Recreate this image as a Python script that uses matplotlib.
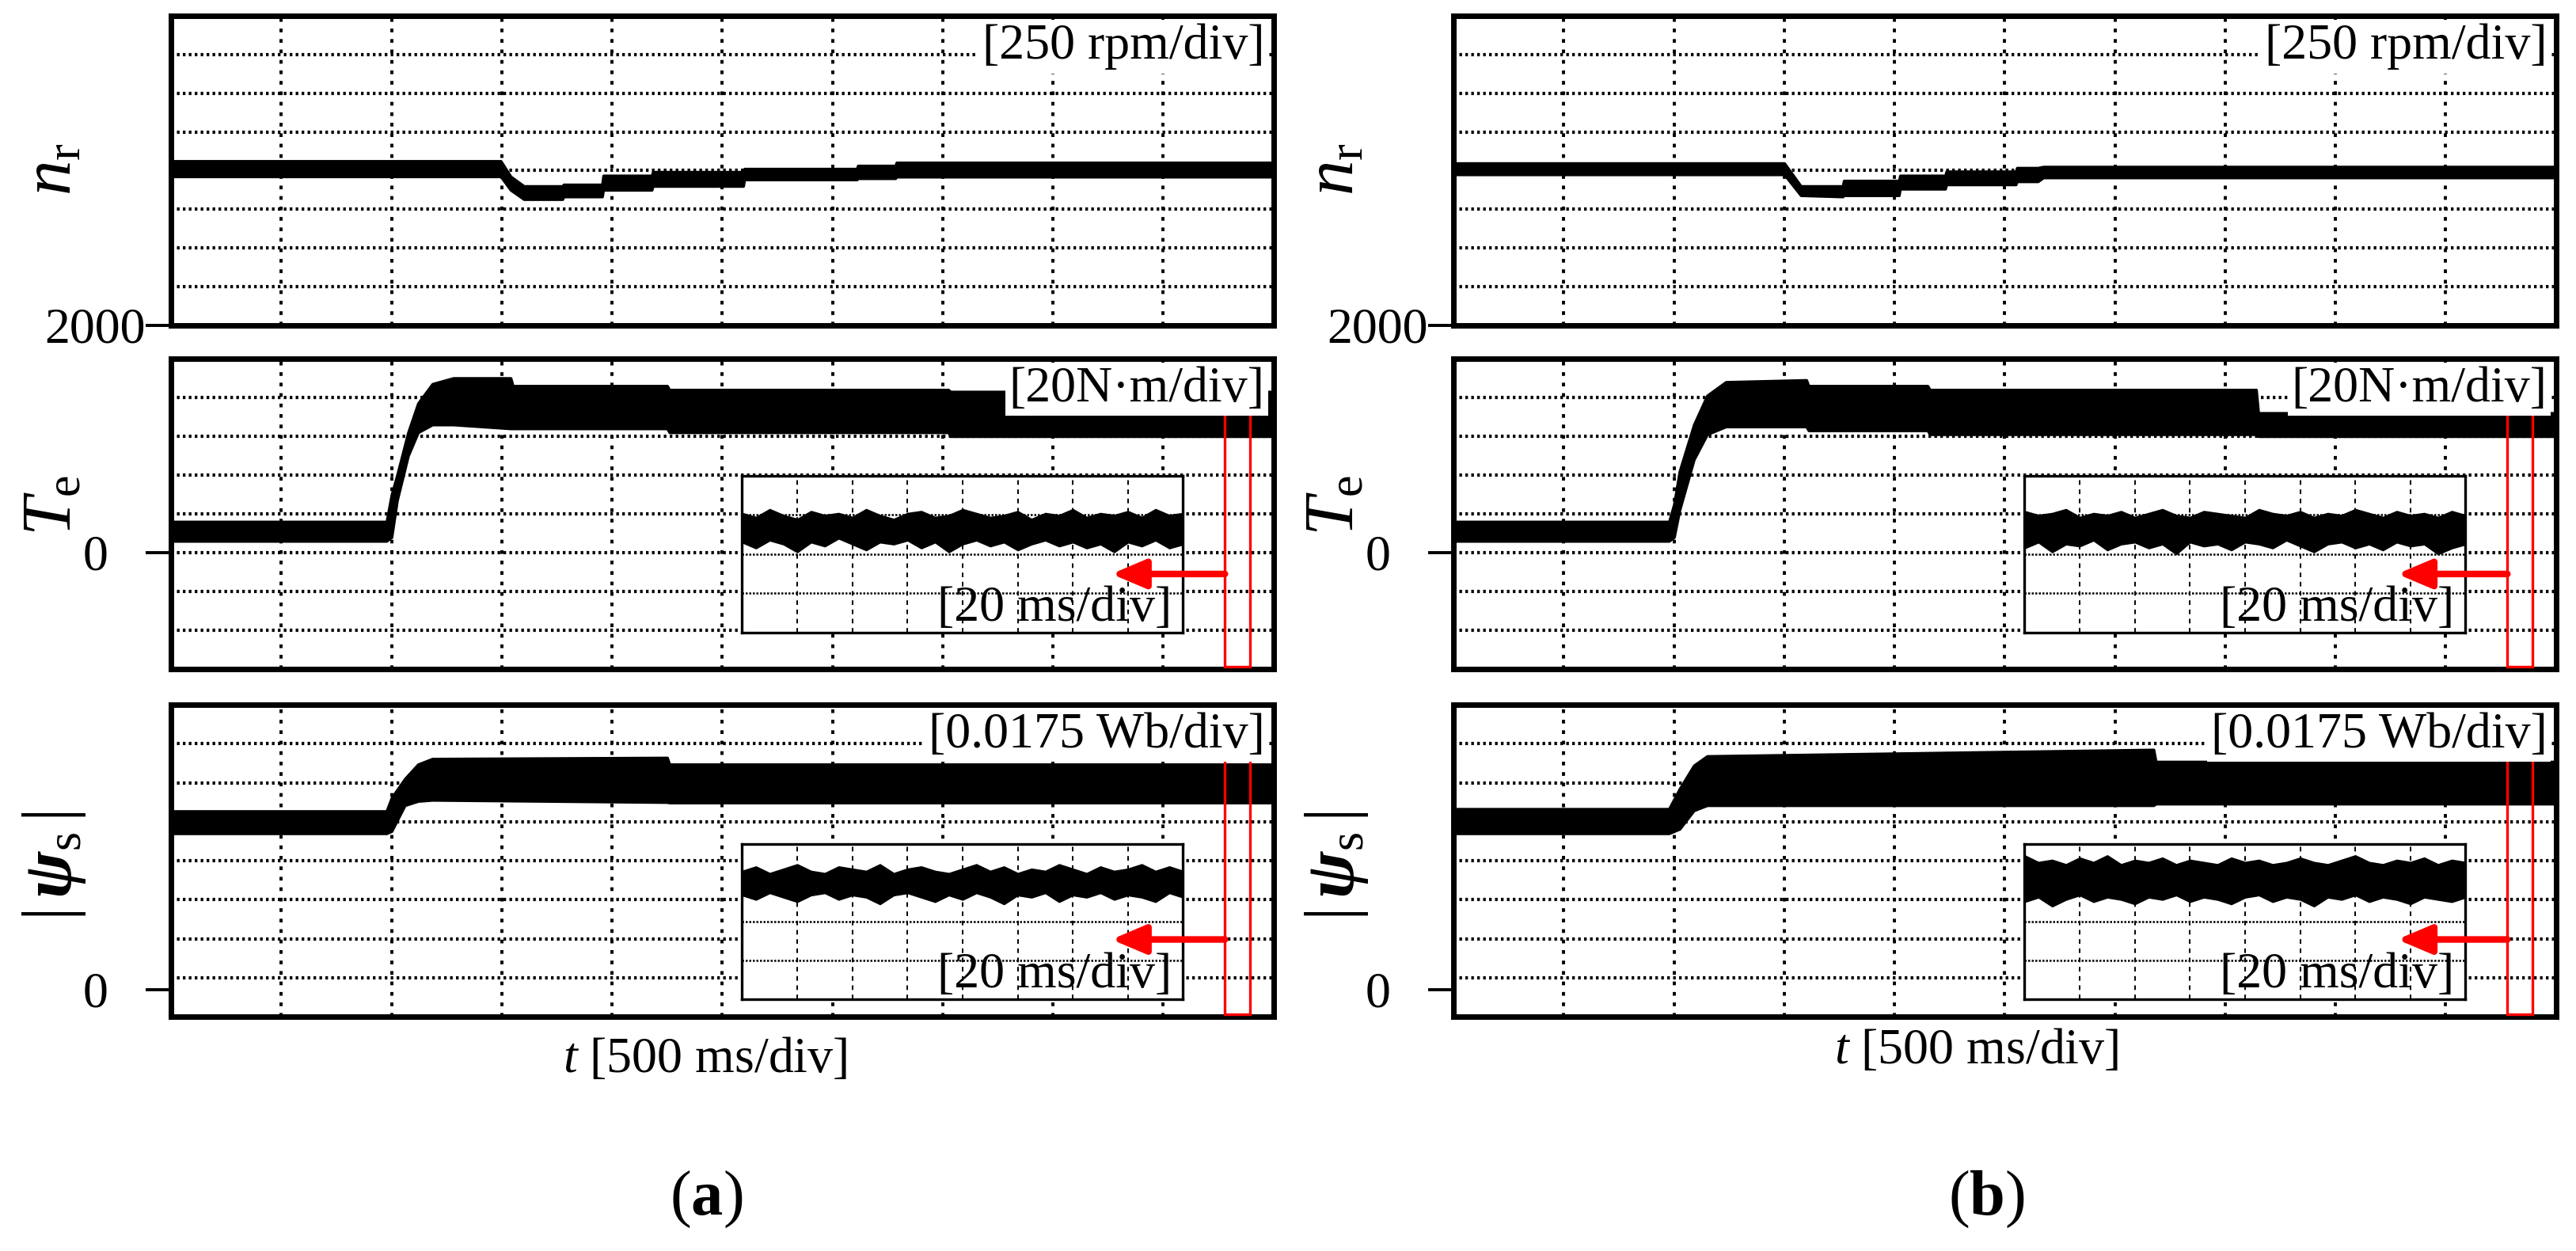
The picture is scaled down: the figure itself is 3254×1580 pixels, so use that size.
import numpy as np
import matplotlib
matplotlib.use('Agg')
import matplotlib.pyplot as plt
import matplotlib.transforms as mtransforms
from matplotlib.patches import Rectangle

plt.rcParams['font.family'] = 'Liberation Serif'
plt.rcParams['mathtext.fontset'] = 'custom'
plt.rcParams['mathtext.rm'] = 'Liberation Serif'
plt.rcParams['mathtext.it'] = 'Liberation Serif:italic'
plt.rcParams['mathtext.bf'] = 'Liberation Serif:bold'
plt.rcParams['mathtext.bfit'] = 'Liberation Serif:bold:italic'

# ---- data (time in ms, 500 ms/div) ----
# rotor speed band, rpm (upper / lower edge of the thick trace)
t_nr_a = [0, 1495, 1540, 1600, 1775, 1780, 1955, 1960, 2180, 2185, 2595, 2600, 3110, 3115, 3285, 3290, 5000]
nr_hi_a = [3062, 3062, 2962, 2900, 2900, 2910, 2910, 2968, 2968, 2992, 2992, 3012, 3012, 3032, 3032, 3052, 3052]
nr_lo_a = [2962, 2962, 2875, 2815, 2815, 2832, 2832, 2875, 2875, 2900, 2900, 2942, 2942, 2950, 2950, 2960, 2960]

t_nr_b = [0, 1500, 1575, 1765, 1770, 2020, 2025, 2230, 2235, 2550, 2555, 2650, 2675, 5000]
nr_hi_b = [3048, 3048, 2900, 2900, 2935, 2935, 2968, 2968, 2995, 2995, 3018, 3018, 3025, 3025]
nr_lo_b = [2975, 2975, 2840, 2832, 2840, 2840, 2882, 2882, 2910, 2910, 2930, 2930, 2955, 2955]

# electromagnetic torque band, N.m
t_te_a = [0, 977, 1000, 1025, 1075, 1120, 1185, 1280, 1540, 1550, 2250, 2260, 3525, 3535, 5000]
te_hi_a = [16, 16, 30, 40, 62, 77, 87, 90, 90, 86, 86, 84, 84, 83, 83]
te_lo_a = [6, 6, 8, 27, 50, 62, 66, 66, 64, 64, 64, 62, 62, 60, 60]

t_te_b = [0, 977, 1000, 1025, 1090, 1150, 1235, 1600, 1610, 2150, 2160, 3640, 3650, 5000]
te_hi_b = [16, 16, 25, 42, 66, 81, 88, 89, 86, 86, 84, 84, 72, 72]
te_lo_b = [6, 6, 8, 22, 48, 61, 65, 65, 63, 63, 61, 61, 60, 60]

# stator flux magnitude band, Wb
t_psi_a = [0, 977, 1000, 1060, 1120, 1185, 2250, 2260, 5000]
psi_hi_a = [0.080, 0.080, 0.086, 0.0945, 0.101, 0.1035, 0.104, 0.101, 0.101]
psi_lo_a = [0.070, 0.070, 0.071, 0.0826, 0.0845, 0.085, 0.084, 0.0838, 0.0838]

t_psi_b = [0, 977, 1025, 1090, 1150, 3175, 3185, 5000]
psi_hi_b = [0.081, 0.081, 0.090, 0.1005, 0.1047, 0.1076, 0.1022, 0.1022]
psi_lo_b = [0.070, 0.070, 0.072, 0.0803, 0.0826, 0.0826, 0.0833, 0.0833]

# zoomed windows (20 ms/div, 160 ms wide)
te_in_hi_a = [21, 19, 23, 20, 18, 22, 20, 21, 19, 23, 20, 18, 21, 22, 19, 20, 23,
              21, 19, 20, 22, 18, 21, 20, 23, 19, 21, 20, 22, 19, 23, 20, 21]
te_in_lo_a = [6, 3, 7, 5, 1, 6, 4, 8, 5, 2, 6, 5, 7, 3, 6, 1, 5,
              7, 4, 6, 2, 5, 7, 4, 6, 3, 5, 1, 6, 4, 7, 3, 5]
te_in_hi_b = [22, 20, 21, 23, 19, 21, 20, 22, 19, 21, 23, 20, 19, 22, 21, 20, 19,
              23, 21, 20, 22, 19, 21, 20, 23, 21, 19, 22, 20, 21, 19, 22, 20]
te_in_lo_b = [3, 6, 1, 5, 4, 7, 2, 5, 6, 3, 5, 0, 6, 4, 5, 2, 6,
              5, 3, 7, 4, 1, 5, 6, 3, 5, 2, 6, 4, 5, 0, 3, 5]
psi_in_hi_a = [0.058, 0.060, 0.057, 0.059, 0.061, 0.058, 0.057, 0.060, 0.059, 0.058, 0.061,
               0.057, 0.059, 0.060, 0.058, 0.057, 0.059, 0.061, 0.058, 0.060, 0.057, 0.059,
               0.058, 0.061, 0.059, 0.057, 0.060, 0.058, 0.059, 0.061, 0.058, 0.060, 0.058]
psi_in_lo_a = [0.047, 0.045, 0.048, 0.046, 0.044, 0.047, 0.048, 0.045, 0.047, 0.046, 0.043,
               0.047, 0.048, 0.046, 0.044, 0.047, 0.045, 0.048, 0.046, 0.043, 0.047, 0.046,
               0.048, 0.044, 0.047, 0.046, 0.048, 0.045, 0.047, 0.046, 0.044, 0.048, 0.046]
psi_in_hi_b = [0.065, 0.062, 0.063, 0.061, 0.064, 0.062, 0.065, 0.061, 0.063, 0.062, 0.064,
               0.061, 0.063, 0.062, 0.061, 0.064, 0.062, 0.063, 0.061, 0.062, 0.064, 0.062,
               0.061, 0.063, 0.065, 0.062, 0.061, 0.063, 0.062, 0.064, 0.061, 0.063, 0.062]
psi_in_lo_b = [0.044, 0.046, 0.042, 0.045, 0.047, 0.044, 0.046, 0.045, 0.043, 0.046, 0.045,
               0.047, 0.044, 0.046, 0.045, 0.043, 0.046, 0.047, 0.044, 0.046, 0.045, 0.042,
               0.046, 0.045, 0.047, 0.044, 0.046, 0.045, 0.043, 0.046, 0.045, 0.044, 0.046]

zoom_win = [(4780, 4895), (4780, 4895)]
arrow_tip = [4265, 4280]

scale_labels = ['[250 rpm/div]', '[20N\u00b7m/div]', '[0.0175 Wb/div]']
y_labels = [r'$n_{\mathrm{r}}$', r'$T_{\mathrm{e}}$', r'$|\,\mathbfit{\psi}_{\mathrm{s}}\,|$']
ylims = [(2000, 4000), (-60, 100), (-0.01225, 0.12775)]
yticks = [2000, 0, 0]
ytick_labels = ['2000', '0', '0']

FS = 46


def scope_grid(ax, xlim, ylim, nx, ny, lw_h, lw_v, ls_h, ls_v):
    for x in np.linspace(xlim[0], xlim[1], nx + 1)[1:-1]:
        ax.axvline(x, color='black', lw=lw_v, ls=ls_v, zorder=1)
    for y in np.linspace(ylim[0], ylim[1], ny + 1)[1:-1]:
        ax.axhline(y, color='black', lw=lw_h, ls=ls_h, zorder=1)


def main_panel(ax, row, t, hi, lo):
    ax.set_xlim(0, 5000)
    ax.set_ylim(ylims[row])
    scope_grid(ax, (0, 5000), ylims[row], 10, 8, 3.0, 2.8, (0, (0.8, 1.0)), (0, (1.2, 2.2)))
    ax.fill_between(t, lo, hi, color='black', lw=2.5, zorder=3)
    ax.set_xticks([])
    ax.set_yticks([yticks[row]])
    ax.set_yticklabels([ytick_labels[row]], fontsize=FS)
    ax.tick_params(axis='y', direction='out', length=23, width=2.8,
                   pad=0 if row == 0 else 34)
    for s in ax.spines.values():
        s.set_linewidth(5)
    ax.text(0.992, 0.975, scale_labels[row], transform=ax.transAxes, ha='right', va='top',
            fontsize=FS, zorder=6,
            bbox=dict(facecolor='white', edgecolor='none', pad=3))


def inset_panel(ax, rect, col, hi, lo, ylim, arrow_y):
    ins = ax.inset_axes(rect)
    ins.set_xlim(0, 160)
    ins.set_ylim(ylim)
    scope_grid(ins, (0, 160), ylim, 8, 4, 1.8, 1.4, (0, (1, 0.8)), (0, (3, 3)))
    t_in = np.linspace(0, 160, len(hi))
    ins.fill_between(t_in, lo, hi, color='black', lw=1.2, zorder=3)
    ins.set_xticks([])
    ins.set_yticks([])
    for s in ins.spines.values():
        s.set_linewidth(2.4)
    ins.text(0.975, 0.005, '[20 ms/div]', transform=ins.transAxes, ha='right', va='bottom',
             fontsize=FS, zorder=6)
    # red window marking the zoomed part
    blend = mtransforms.blended_transform_factory(ax.transData, ax.transAxes)
    x0, x1 = zoom_win[col]
    ax.add_patch(Rectangle((x0, 0.008), x1 - x0, 0.975, transform=blend, fill=False,
                           edgecolor='red', lw=2.4, zorder=4))
    ins.annotate('', xy=(arrow_tip[col], arrow_y), xycoords=ax.transData,
                 xytext=(x0, arrow_y), textcoords=ax.transData,
                 arrowprops=dict(arrowstyle='-|>,head_length=1.3,head_width=0.55',
                                 color='red', lw=6, mutation_scale=20,
                                 shrinkA=0, shrinkB=0))


fig = plt.figure(figsize=(32.55, 15.80), dpi=100)
col_x = [0.0664, 0.5641]
col_w = 0.4278
rows = [(0.7399, 0.2475), (0.4652, 0.2481), (0.1873, 0.2494)]

traces = [
    [(t_nr_a, nr_hi_a, nr_lo_a), (t_te_a, te_hi_a, te_lo_a), (t_psi_a, psi_hi_a, psi_lo_a)],
    [(t_nr_b, nr_hi_b, nr_lo_b), (t_te_b, te_hi_b, te_lo_b), (t_psi_b, psi_hi_b, psi_lo_b)],
]
insets = [
    [(te_in_hi_a, te_in_lo_a), (psi_in_hi_a, psi_in_lo_a)],
    [(te_in_hi_b, te_in_lo_b), (psi_in_hi_b, psi_in_lo_b)],
]

for col in range(2):
    for row in range(3):
        ax = fig.add_axes([col_x[col], rows[row][0], col_w, rows[row][1]])
        t, hi, lo = traces[col][row]
        main_panel(ax, row, t, hi, lo)
        if row == 1:
            inset_panel(ax, [0.518, 0.1175, 0.4, 0.505], col,
                        insets[col][0][0], insets[col][0][1], (-40, 40), -11)
        if row == 2:
            inset_panel(ax, [0.518, 0.055, 0.4, 0.4975], col,
                        insets[col][1][0], insets[col][1][1], (0, 0.07), 0.0224)

    lx = col_x[col] - 148 / 3255
    for row, yc in enumerate([0.8646, 0.596, 0.308]):
        fig.text(lx, yc, y_labels[row], rotation=90, ha='center', va='center', fontsize=64)

fig.text(0.2735, 0.1525, r'$t$ [500 ms/div]', ha='center', va='center', fontsize=FS)
fig.text(0.767, 0.1595, r'$t$ [500 ms/div]', ha='center', va='center', fontsize=FS)
fig.text(0.274, 0.041, r'($\mathbf{a}$)', ha='center', va='center', fontsize=58)
fig.text(0.771, 0.041, r'($\mathbf{b}$)', ha='center', va='center', fontsize=58)

fig.savefig('out.png', dpi=100, facecolor='white')
